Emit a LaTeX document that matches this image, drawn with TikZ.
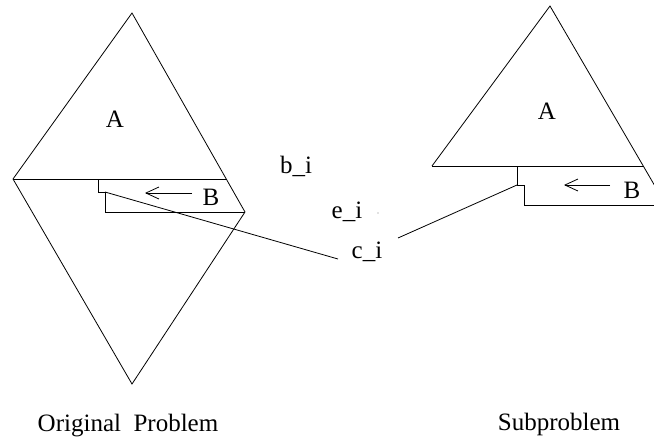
\documentclass[tikz,border=0pt]{standalone}
\usepackage{fontspec}
\setmainfont{Liberation Serif}
\usetikzlibrary{arrows.meta}
\tikzset{
  edge/.style={line width=0.8pt, line join=miter},
  lbl/.style={inner sep=0pt, anchor=base, font=\fontsize{25}{30}\selectfont},
  barb/.style={line width=0.8pt, -{Straight Barb[length=13pt,width=12pt,line width=0.8pt]}},
}
\begin{document}
\begin{tikzpicture}[x=1pt,y=-1pt]
\useasboundingbox (0,0) rectangle (654,442);
\clip (0,0) rectangle (654,442);
% left diamond
\coordinate (T1) at (132,13);
\coordinate (L1) at (13,179);
\coordinate (R1) at (245,212);
\coordinate (Bt1) at (132,384);
\coordinate (H1) at (226,179);
\draw[edge] (L1) -- (T1) -- (R1) -- (Bt1) -- cycle;
\draw[edge] (L1) -- (H1);
% left B box
\coordinate (s1a) at (98,179);
\coordinate (s1b) at (98,192);
\coordinate (s1c) at (105,192);
\coordinate (s1d) at (105,212);
\draw[edge] (s1a) -- (s1b) -- (s1c) -- (s1d) -- (R1);
% right triangle
\coordinate (T2) at (550,6);
\coordinate (L2) at (432,166);
\coordinate (H2) at (643,166);
\coordinate (R2) at (666,205);
\draw[edge] (L2) -- (T2) -- (R2);
\draw[edge] (L2) -- (H2);
% right B box
\coordinate (s2a) at (517,166);
\coordinate (s2b) at (517,185);
\coordinate (s2c) at (524,185);
\coordinate (s2d) at (524,205);
\draw[edge] (s2a) -- (s2b) -- (s2c) -- (s2d) -- (R2);
% labels
\node[lbl] (A1) at (115,127) {A};
\node[lbl] (A2) at (547,119) {A};
\node[lbl] (B1) at (211,205) {B};
\node[lbl] (B2) at (632,198) {B};
\node[lbl] (bi) at (296,173) {b\_i};
\node[lbl] (ei) at (347,218) {e\_i};
\node[lbl] (ci) at (367,258) {c\_i};
\node[lbl] (orig) at (128,431) {Original\ \ Problem};
\node[lbl] (sub) at (559,430) {Subproblem};
% arrows
\coordinate (a1s) at (192,193);
\coordinate (a1e) at (145,193);
\coordinate (a2s) at (610,185);
\coordinate (a2e) at (564,185);
\draw[barb] (a1s) -- (a1e);
\draw[barb] (a2s) -- (a2e);
% connectors to c_i
\coordinate (c1) at (338,259);
\coordinate (c2) at (398,238);
\draw[edge] (s1c) -- (c1);
\draw[edge] (s2b) -- (c2);
% small dot
\fill[gray] (378,213) circle (0.6);
\end{tikzpicture}
\end{document}
